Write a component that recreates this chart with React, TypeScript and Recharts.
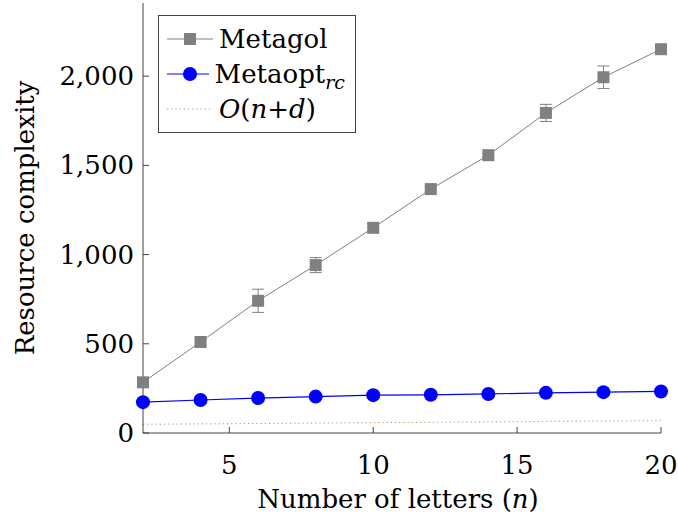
import {
  LineChart,
  Line,
  XAxis,
  YAxis,
  ErrorBar,
  Legend,
} from "recharts";

const nValues = [2, 4, 6, 8, 10, 12, 14, 16, 18, 20];
const metagol = [284, 510, 741, 941, 1150, 1367, 1557, 1794, 1994, 2151];
const metagolErr = [12, 15, 65, 42, 25, 15, 10, 48, 63, 22];
const metaopt = [173, 185, 196, 204, 212, 214, 219, 225, 229, 233];
const bound = [49, 51, 53, 56, 58, 60, 62, 65, 67, 69];

const xTicks = [5, 10, 15, 20];
const yTicks = [0, 500, 1000, 1500, 2000];

const data = nValues.map((n, i) => ({
  n,
  metagol: metagol[i],
  err: metagolErr[i],
  metaopt: metaopt[i],
  bound: bound[i],
}));

const FONT = "'DejaVu Serif', serif";
const FS = 26;
const AXIS = "#444";
const GRAY = "#808080";
const BLUE = "#0000ff";
const DOT = "#b58c64";
const TICK = 6;

function BottomTick(props: any) {
  const { x, y, payload } = props;
  return (
    <g>
      <line x1={x} x2={x} y1={y} y2={y - TICK} stroke={AXIS} />
      <text x={x} y={y + 41} textAnchor="middle" fontFamily={FONT} fontSize={FS} fill="#000">
        {payload.value}
      </text>
    </g>
  );
}

function LeftTick(props: any) {
  const { x, y, payload } = props;
  return (
    <g>
      <line x1={x} x2={x + TICK} y1={y} y2={y} stroke={AXIS} />
      <text x={x - 9} y={y + 9} textAnchor="end" fontFamily={FONT} fontSize={FS} fill="#000">
        {payload.value.toLocaleString("en-US")}
      </text>
    </g>
  );
}

function TopTick(props: any) {
  const { x, y } = props;
  return <line x1={x} x2={x} y1={y} y2={y + TICK} stroke={AXIS} />;
}

function RightTick(props: any) {
  const { x, y } = props;
  return <line x1={x} x2={x - TICK} y1={y} y2={y} stroke={AXIS} />;
}

function Square(props: any) {
  const { cx, cy, index } = props;
  return <rect key={index} x={cx - 6} y={cy - 6} width={12} height={12} fill={GRAY} />;
}

function LegendBox() {
  const row = { display: "flex", alignItems: "center", height: 35 } as const;
  return (
    <div
      style={{
        border: `1px solid ${AXIS}`,
        background: "#fff",
        padding: "5px 10px 6px 8px",
        fontFamily: FONT,
        fontSize: FS,
        color: "#000",
        lineHeight: 1,
        width: 178,
      }}
    >
      <div style={row}>
        <svg width={46} height={20} style={{ marginRight: 6 }}>
          <line x1={0} x2={46} y1={10} y2={10} stroke={GRAY} />
          <rect x={17} y={4} width={12} height={12} fill={GRAY} />
        </svg>
        Metagol
      </div>
      <div style={row}>
        <svg width={46} height={20} style={{ marginRight: 6 }}>
          <line x1={0} x2={46} y1={10} y2={10} stroke={BLUE} strokeWidth={1.2} />
          <circle cx={23} cy={10} r={7} fill={BLUE} />
        </svg>
        <span>
          Metaopt
          <span style={{ fontStyle: "italic", fontSize: 19, position: "relative", top: 6 }}>rc</span>
        </span>
      </div>
      <div style={row}>
        <svg width={46} height={20} style={{ marginRight: 6 }}>
          <line x1={0} x2={46} y1={10} y2={10} stroke={DOT} strokeDasharray="1.2 3" />
        </svg>
        <span>
          <i>O</i>(<i>n</i>+<i>d</i>)
        </span>
      </div>
    </div>
  );
}

export default function App() {
  return (
    <div style={{ position: "absolute", left: 0, top: 0, width: 678, height: 517, background: "#fff" }}>
      <LineChart width={678} height={517} data={data} margin={{ top: 3, right: 17, left: 0, bottom: 0 }}>
        <XAxis
          dataKey="n"
          type="number"
          domain={[2, 20]}
          ticks={xTicks}
          height={84}
          stroke={AXIS}
          tickLine={false}
          tickSize={0}
          tickMargin={0}
          tick={<BottomTick />}
          label={{
            content: (p: any) => {
              const vb = p.viewBox;
              return (
                <text x={vb.x + vb.width / 2 - 4} y={vb.y + 75} textAnchor="middle" fontFamily={FONT} fontSize={FS} fill="#000">
                  Number of letters (<tspan fontStyle="italic">n</tspan>)
                </text>
              );
            },
          }}
        />
        <XAxis
          xAxisId="top"
          orientation="top"
          type="number"
          domain={[2, 20]}
          ticks={xTicks}
          height={0}
          stroke={AXIS}
          tickLine={false}
          tickSize={0}
          tickMargin={0}
          tick={<TopTick />}
        />
        <YAxis
          type="number"
          domain={[0, 2410]}
          ticks={yTicks}
          width={143}
          stroke={AXIS}
          tickLine={false}
          tickSize={0}
          tickMargin={0}
          tick={<LeftTick />}
          label={{
            content: (p: any) => {
              const vb = p.viewBox;
              const cx = 34;
              const cy = vb.y + vb.height / 2;
              return (
                <text
                  x={cx}
                  y={cy}
                  transform={`rotate(-90 ${cx} ${cy})`}
                  textAnchor="middle"
                  fontFamily={FONT}
                  fontSize={FS}
                  fill="#000"
                >
                  Resource complexity
                </text>
              );
            },
          }}
        />
        <YAxis
          yAxisId="right"
          orientation="right"
          type="number"
          domain={[0, 2410]}
          ticks={yTicks}
          width={0}
          stroke={AXIS}
          tickLine={false}
          tickSize={0}
          tickMargin={0}
          tick={<RightTick />}
        />
        <Legend
          layout="vertical"
          align="center"
          verticalAlign="middle"
          content={() => <LegendBox />}
          wrapperStyle={{ position: "absolute", left: 158, top: 15, width: "auto" }}
        />
        <Line
          dataKey="bound"
          name="O(n+d)"
          stroke={DOT}
          strokeWidth={1}
          strokeDasharray="1.2 3"
          dot={false}
          isAnimationActive={false}
        />
        <Line
          dataKey="metaopt"
          name="Metaopt_rc"
          stroke={BLUE}
          strokeWidth={1.2}
          dot={{ r: 7, fill: BLUE, stroke: "none" }}
          isAnimationActive={false}
        />
        <Line
          dataKey="metagol"
          name="Metagol"
          stroke={GRAY}
          strokeWidth={1}
          dot={<Square />}
          isAnimationActive={false}
        >
          <ErrorBar dataKey="err" width={6} stroke={GRAY} strokeWidth={1} direction="y" />
        </Line>
      </LineChart>
    </div>
  );
}
